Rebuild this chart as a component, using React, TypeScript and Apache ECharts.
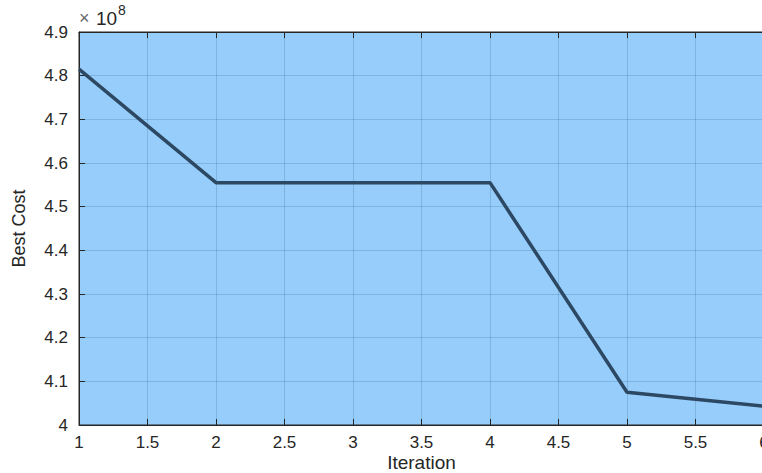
import React, { useEffect, useRef } from "react";
import * as echarts from "echarts";

const iterations = [1, 2, 3, 4, 5, 6];
const bestCost = [4.815e8, 4.555e8, 4.555e8, 4.555e8, 4.075e8, 4.043e8];
const xTicks = [1, 1.5, 2, 2.5, 3, 3.5, 4, 4.5, 5, 5.5, 6];
const yTicks = [4, 4.1, 4.2, 4.3, 4.4, 4.5, 4.6, 4.7, 4.8, 4.9];

export default function App() {
  const ref = useRef<HTMLDivElement>(null);
  useEffect(() => {
    document.body.style.margin = "0";
    if (!ref.current) return;
    const chart = echarts.init(ref.current, null, { renderer: "svg" });
    const font = "Liberation Sans, Arial, sans-serif";
    const axisColor = "#262626";
    const gridLine = { show: true, lineStyle: { color: "rgba(40,80,120,0.2)", width: 1 } };
    chart.setOption({
      animation: false,
      grid: {
        left: 79,
        right: -2,
        top: 32,
        bottom: 48,
        outerBoundsMode: "none",
        containLabel: false,
        show: true,
        backgroundColor: "#96cdfb",
        borderColor: axisColor,
        borderWidth: 1,
      },
      graphic: [
        {
          type: "text",
          x: 79,
          y: 9,
          style: { text: "×", fontFamily: font, fontSize: 18, fill: "#666" },
        },
        {
          type: "text",
          x: 96,
          y: 9,
          style: { text: "10", fontFamily: font, fontSize: 19, fill: axisColor },
        },
        {
          type: "text",
          x: 118,
          y: 3,
          style: { text: "8", fontFamily: font, fontSize: 14, fill: axisColor },
        },
      ],
      xAxis: [
        {
          type: "value",
          min: 1,
          max: 6,
          interval: 0.5,
          name: "Iteration",
          nameLocation: "middle",
          nameGap: 28,
          nameMoveOverlap: false,
          nameTextStyle: { fontFamily: font, fontSize: 19, color: axisColor },
          axisLine: { show: true, onZero: false, lineStyle: { color: axisColor } },
          axisTick: { show: true, inside: true, length: 6, lineStyle: { color: axisColor } },
          axisLabel: {
            fontFamily: font,
            fontSize: 17,
            color: axisColor,
            margin: 9,
            formatter: (v: number) => (xTicks.includes(v) ? String(v) : ""),
          },
          splitLine: gridLine,
        },
        {
          type: "value",
          position: "top",
          min: 1,
          max: 6,
          interval: 0.5,
          axisLine: { show: true, lineStyle: { color: axisColor } },
          axisTick: { show: true, inside: true, length: 6, lineStyle: { color: axisColor } },
          axisLabel: { show: false },
          splitLine: { show: false },
        },
      ],
      yAxis: {
        type: "value",
        min: 4e8,
        max: 4.9e8,
        interval: 0.1e8,
        name: "Best Cost",
        nameLocation: "middle",
        nameGap: 51,
        nameMoveOverlap: false,
        nameTextStyle: { fontFamily: font, fontSize: 18, color: axisColor },
        axisLine: { show: true, onZero: false, lineStyle: { color: axisColor } },
        axisTick: { show: true, inside: true, length: 6, lineStyle: { color: axisColor } },
        axisLabel: {
          fontFamily: font,
          fontSize: 17,
          color: axisColor,
          margin: 11,
          formatter: (v: number) => {
            const t = Math.round(v / 1e7) / 10;
            return yTicks.includes(t) ? String(t) : "";
          },
        },
        splitLine: gridLine,
      },
      series: [
        {
          type: "line",
          data: iterations.map((x, i) => [x, bestCost[i]]),
          showSymbol: false,
          symbol: "none",
          lineStyle: { color: "#2c4863", width: 3.5 },
          clip: false,
        },
      ],
    });
    return () => chart.dispose();
  }, []);
  return <div ref={ref} style={{ width: 762, height: 473 }} />;
}
